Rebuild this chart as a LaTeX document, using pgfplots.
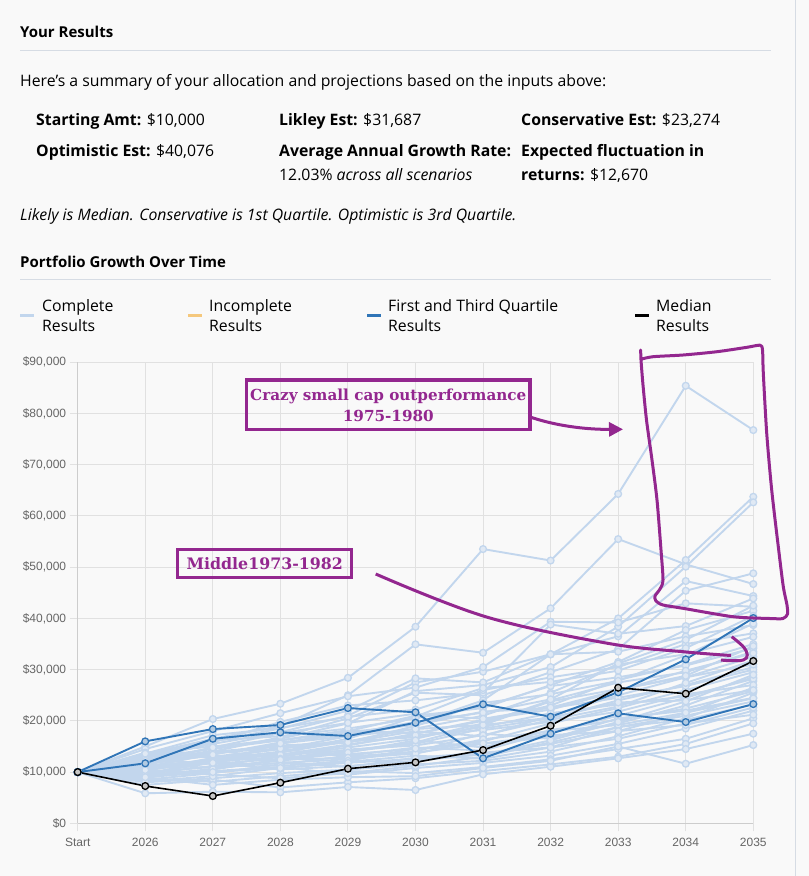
\documentclass[border=0pt]{standalone}
\usepackage{pgfplots}
\pgfplotsset{compat=1.18}
\usepackage{fontspec}
\setmainfont{Open Sans}
\newfontfamily\tickfont{Liberation Sans}
\newfontfamily\slab{DejaVu Serif}
\usetikzlibrary{arrows.meta}
\definecolor{bg}{RGB}{249,249,249}
\definecolor{lt}{RGB}{194,214,237}
\definecolor{qb}{RGB}{48,117,183}
\definecolor{pp}{RGB}{147,39,143}
\definecolor{grd}{RGB}{225,225,225}
\definecolor{axl}{RGB}{205,205,205}
\definecolor{tk}{RGB}{102,102,102}
\definecolor{rulec}{RGB}{214,220,228}
\definecolor{org}{RGB}{245,200,125}
\newcommand\bodyfont{\fontsize{15.8}{20}\selectfont}
\newcommand\headfont{\fontsize{15}{18}\selectfont\bfseries}
\pgfplotsset{
  lts/.style={lt, line width=1.9pt, mark=*, mark size=3.4pt, mark options={draw=lt, fill=lt!45!bg, line width=1.3pt}},
  qs/.style={qb, line width=1.9pt, mark=*, mark size=3.4pt, mark options={draw=qb, fill=qb!35!bg, line width=1.3pt}},
  ms/.style={black, line width=1.6pt, mark=*, mark size=3.4pt, mark options={draw=black, fill=black!20!bg, line width=1.3pt}},
}
\begin{document}
\begin{tikzpicture}
\path[use as bounding box, fill=bg] (0pt,0pt) rectangle (809pt,-876pt);
\begin{scope}[x=1pt,y=-1pt]
\draw[rulec, line width=1pt] (795,0) -- (795,876);
\node[anchor=base west, inner sep=0] at (20,37.7) {\headfont Your Results};
\draw[rulec, line width=1pt] (20,50) -- (771,50);
\node[anchor=base west, inner sep=0] at (20,86) {\bodyfont Here’s a summary of your allocation and projections based on the inputs above:};
\node[anchor=base west, inner sep=0] at (36,125) {\bodyfont\textbf{Starting Amt:} \$10,000};
\node[anchor=base west, inner sep=0] at (279,125) {\bodyfont\textbf{Likley Est:} \$31,687};
\node[anchor=base west, inner sep=0] at (521,125) {\bodyfont\textbf{Conservative Est:} \$23,274};
\node[anchor=base west, inner sep=0] at (36,156.7) {\bodyfont\textbf{Optimistic Est:} \$40,076};
\node[anchor=base west, inner sep=0] at (279,156.7) {\bodyfont\textbf{Average Annual Growth Rate:}};
\node[anchor=base west, inner sep=0] at (521,156.7) {\bodyfont\textbf{Expected fluctuation in}};
\node[anchor=base west, inner sep=0] at (279,180) {\bodyfont 12.03\% \textit{across all scenarios}};
\node[anchor=base west, inner sep=0] at (521,180) {\bodyfont\textbf{returns:} \$12,670};
\node[anchor=base west, inner sep=0] at (20,220.7) {\bodyfont\itshape Likely is Median. Conservative is 1st Quartile. Optimistic is 3rd Quartile.};
\node[anchor=base west, inner sep=0] at (20,267) {\headfont Portfolio Growth Over Time};
\draw[rulec, line width=1pt] (20,279) -- (771,279);
% legend
\draw[lt, line width=3pt] (20,315.5) -- (34,315.5);
\draw[org, line width=3pt] (188,315.5) -- (202,315.5);
\draw[qb, line width=3pt] (367,315.5) -- (381,315.5);
\draw[black, line width=3pt] (635,315.5) -- (649,315.5);
\node[anchor=base west, inner sep=0] at (42,311.5) {\bodyfont Complete};
\node[anchor=base west, inner sep=0] at (42,331.5) {\bodyfont Results};
\node[anchor=base west, inner sep=0] at (209,311.5) {\bodyfont Incomplete};
\node[anchor=base west, inner sep=0] at (209,331.5) {\bodyfont Results};
\node[anchor=base west, inner sep=0] at (388,311.5) {\bodyfont First and Third Quartile};
\node[anchor=base west, inner sep=0] at (388,331.5) {\bodyfont Results};
\node[anchor=base west, inner sep=0] at (656,311.5) {\bodyfont Median};
\node[anchor=base west, inner sep=0] at (656,331.5) {\bodyfont Results};
\end{scope}
\begin{axis}[
  scale only axis, width=675.6pt, height=461pt,
  at={(77.7pt,-823.3pt)}, anchor=south west,
  xmin=0, xmax=10, ymin=0, ymax=90000,
  xtick={0,1,2,3,4,5,6,7,8,9,10},
  xticklabels={Start,2026,2027,2028,2029,2030,2031,2032,2033,2034,2035},
  ytick={0,10000,20000,30000,40000,50000,60000,70000,80000,90000},
  yticklabels={{\$0},{\$10,000},{\$20,000},{\$30,000},{\$40,000},{\$50,000},{\$60,000},{\$70,000},{\$80,000},{\$90,000}},
  scaled y ticks=false,
  grid=major, grid style={grd, line width=1pt},
  axis lines*=left, axis line style={axl, line width=1pt},
  tick align=outside, major tick length=8pt, tick style={grd, line width=1pt},
  ticklabel style={font=\tickfont\fontsize{12}{14}\selectfont, text=tk},
  xticklabel style={yshift=-3pt},
  clip=false,
]
\addplot[lts] coordinates {(0,10000)(1,15000)(2,20360)(3,23350)(4,28400)(5,38380)(6,53540)(7,51300)(8,64300)(9,85420)(10,76770)};
\addplot[lts] coordinates {(0,10000)(1,13500)(2,16500)(3,19000)(4,25000)(5,34940)(6,33300)(7,41970)(8,55490)(9,50550)(10,46710)};
\addplot[lts] coordinates {(0,10000)(1,12800)(2,15500)(3,17800)(4,21000)(5,27500)(6,29600)(7,33000)(8,40000)(9,51400)(10,63750)};
\addplot[lts] coordinates {(0,10000)(1,12000)(2,14800)(3,16500)(4,19500)(5,25800)(6,27000)(7,30500)(8,38400)(9,50100)(10,62660)};
\addplot[lts] coordinates {(0,10000)(1,13000)(2,16000)(3,18500)(4,22000)(5,28300)(6,27500)(7,33000)(8,36500)(9,47300)(10,44370)};
\addplot[lts] coordinates {(0,10000)(1,11500)(2,14000)(3,16800)(4,20500)(5,25500)(6,25000)(7,29500)(8,34000)(9,45400)(10,48800)};
\addplot[lts] coordinates {(0,10000)(1,14500)(2,18000)(3,21500)(4,24800)(5,26500)(6,30500)(7,39350)(8,39200)(9,42940)(10,42280)};
\addplot[lts] coordinates {(0,10000)(1,12200)(2,15800)(3,19800)(4,23000)(5,24000)(6,25500)(7,38800)(8,37000)(9,38510)(10,43900)};
\addplot[lts] coordinates {(0,10000)(1,11000)(2,13500)(3,15500)(4,18000)(5,21000)(6,22500)(7,27000)(8,31500)(9,37730)(10,41500)};
\addplot[lts] coordinates {(0,10000)(1,12500)(2,13000)(3,14500)(4,17000)(5,19500)(6,24000)(7,33000)(8,33500)(9,36500)(10,38700)};
\addplot[lts] coordinates {(0,10000)(1,9500)(2,12500)(3,14000)(4,16500)(5,20800)(6,26000)(7,28500)(8,30500)(9,35000)(10,37090)};
\addplot[lts] coordinates {(0,10000)(1,10500)(2,11800)(3,13800)(4,16000)(5,18500)(6,21000)(7,25500)(8,31000)(9,33000)(10,36400)};
\addplot[lts] coordinates {(0,10000)(1,13800)(2,15000)(3,16200)(4,18200)(5,17500)(6,20000)(7,23000)(8,28000)(9,31000)(10,35000)};
\addplot[lts] coordinates {(0,10000)(1,11200)(2,12000)(3,13000)(4,14800)(5,16500)(6,19500)(7,24000)(8,27500)(9,29500)(10,33500)};
\addplot[lts] coordinates {(0,10000)(1,10800)(2,13800)(3,15200)(4,15800)(5,18000)(6,17000)(7,21000)(8,25000)(9,28500)(10,32500)};
\addplot[lts] coordinates {(0,10000)(1,9000)(2,10500)(3,12500)(4,14000)(5,15500)(6,18500)(7,20500)(8,24000)(9,27000)(10,30500)};
\addplot[lts] coordinates {(0,10000)(1,12000)(2,14200)(3,12800)(4,13500)(5,14500)(6,16000)(7,19500)(8,22500)(9,26000)(10,29500)};
\addplot[lts] coordinates {(0,10000)(1,8500)(2,9800)(3,11500)(4,13200)(5,14800)(6,14200)(7,17800)(8,21000)(9,24500)(10,28500)};
\addplot[lts] coordinates {(0,10000)(1,11500)(2,10800)(3,11800)(4,12500)(5,13800)(6,15500)(7,16800)(8,19500)(9,23000)(10,27800)};
\addplot[lts] coordinates {(0,10000)(1,9800)(2,11800)(3,10500)(4,11200)(5,12200)(6,13500)(7,15500)(8,18000)(9,21500)(10,26500)};
\addplot[lts] coordinates {(0,10000)(1,8000)(2,8800)(3,9800)(4,10500)(5,11500)(6,12200)(7,14000)(8,17000)(9,20500)(10,25500)};
\addplot[lts] coordinates {(0,10000)(1,10200)(2,12800)(3,14500)(4,13000)(5,14000)(6,17500)(7,16500)(8,20500)(9,22000)(10,24500)};
\addplot[lts] coordinates {(0,10000)(1,9200)(2,10200)(3,11000)(4,9500)(5,10800)(6,11800)(7,13200)(8,15500)(9,18500)(10,22000)};
\addplot[lts] coordinates {(0,10000)(1,8800)(2,8100)(3,9200)(4,10200)(5,9800)(6,11000)(7,12500)(8,14500)(9,16500)(10,20500)};
\addplot[lts] coordinates {(0,10000)(1,7500)(2,8500)(3,7000)(4,8000)(5,8800)(6,10200)(7,11500)(8,13000)(9,15500)(10,19500)};
\addplot[lts] coordinates {(0,10000)(1,5860)(2,6170)(3,6050)(4,7090)(5,6500)(6,9560)(7,11050)(8,12690)(9,14500)(10,17500)};
\addplot[lts] coordinates {(0,10000)(1,9000)(2,7500)(3,8500)(4,9000)(5,9200)(6,10800)(7,12200)(8,15000)(9,11630)(10,15280)};
\addplot[lts] coordinates {(0,10000)(1,11800)(2,13200)(3,12000)(4,11000)(5,12800)(6,13800)(7,14800)(8,16500)(9,19500)(10,21200)};
\addplot[lts] coordinates {(0,10000)(1,10500)(2,9500)(3,8800)(4,9800)(5,11200)(6,13000)(7,15800)(8,18800)(9,21000)(10,23800)};
\addplot[lts] coordinates {(0,10000)(1,12800)(2,14500)(3,16200)(4,17800)(5,19200)(6,21800)(7,22500)(8,24500)(9,26800)(10,30000)};
\addplot[lts] coordinates {(0,10000)(1,11000)(2,12500)(3,13500)(4,14200)(5,15800)(6,19200)(7,23800)(8,26200)(9,28500)(10,31000)};
\addplot[lts] coordinates {(0,10000)(1,13200)(2,16200)(3,17000)(4,18500)(5,20500)(6,22800)(7,26800)(8,28500)(9,30800)(10,34200)};
\addplot[lts] coordinates {(0,10000)(1,9600)(2,11200)(3,13000)(4,15200)(5,17500)(6,20200)(7,22200)(8,25800)(9,29800)(10,33200)};
\addplot[lts] coordinates {(0,10000)(1,12400)(2,14000)(3,15000)(4,16000)(5,16800)(6,18800)(7,21500)(8,23200)(9,24800)(10,28200)};
\addplot[lts] coordinates {(0,10000)(1,10800)(2,12200)(3,13400)(4,15400)(5,17200)(6,18200)(7,19800)(8,21800)(9,25200)(10,27000)};
\addplot[lts] coordinates {(0,10000)(1,11400)(2,13800)(3,14600)(4,15800)(5,19000)(6,23500)(7,25200)(8,27800)(9,32800)(10,39000)};
\addplot[lts] coordinates {(0,10000)(1,12600)(2,11600)(3,12600)(4,14400)(5,15200)(6,17200)(7,20200)(8,22800)(9,27400)(10,31800)};
\addplot[lts] coordinates {(0,10000)(1,10000)(2,11000)(3,12200)(4,13800)(5,16200)(6,14800)(7,18200)(8,20200)(9,22400)(10,25800)};
\addplot[lts] coordinates {(0,10000)(1,8200)(2,9200)(3,10800)(4,12000)(5,13200)(6,12600)(7,14800)(8,18800)(9,20200)(10,23200)};
\addplot[lts] coordinates {(0,10000)(1,13600)(2,17200)(3,18600)(4,20800)(5,22200)(6,26400)(7,27600)(8,29800)(9,34200)(10,40500)};
\addplot[lts] coordinates {(0,10000)(1,11600)(2,13400)(3,15800)(4,17400)(5,19800)(6,21600)(7,24200)(8,31200)(9,35800)(10,42500)};
\addplot[lts] coordinates {(0,10000)(1,9400)(2,10600)(3,12400)(4,12800)(5,13600)(6,16400)(7,18000)(8,19200)(9,21600)(10,24400)};
\addplot[lts] coordinates {(0,10000)(1,10400)(2,12000)(3,11200)(4,12200)(5,14600)(6,15600)(7,17200)(8,18000)(9,19200)(10,22600)};
\addplot[lts] coordinates {(0,10000)(1,12200)(2,11800)(3,15600)(4,17000)(5,18400)(6,19200)(7,20600)(8,23600)(9,24000)(10,26000)};
\addplot[lts] coordinates {(0,10000)(1,9000)(2,10000)(3,10800)(4,11800)(5,12600)(6,13400)(7,16200)(8,19800)(9,23800)(10,29000)};
\addplot[lts] coordinates {(0,10000)(1,11800)(2,14800)(3,17600)(4,19600)(5,21400)(6,20400)(7,22600)(8,26000)(9,28800)(10,34600)};
% quartiles
\addplot[qs] coordinates {(0,10000)(1,16000)(2,18400)(3,19190)(4,22500)(5,21670)(6,12690)(7,17500)(8,21470)(9,19770)(10,23274)};
\addplot[qs] coordinates {(0,10000)(1,11710)(2,16510)(3,17760)(4,17040)(5,19640)(6,23230)(7,20810)(8,25570)(9,32010)(10,40076)};
% median
\addplot[ms] coordinates {(0,10000)(1,7280)(2,5330)(3,7930)(4,10660)(5,11900)(6,14300)(7,19050)(8,26470)(9,25300)(10,31687)};
\end{axis}
\begin{scope}[x=1pt,y=-1pt]
% annotation 1
\draw[pp, line width=3.5pt] (246.7,380) rectangle (530,429.3);
\node[pp, align=center, inner sep=0, font=\slab\bfseries\fontsize{15.2}{20.5}\selectfont] at (388.3,405.5) {Crazy small cap outperformance\\1975-1980};
\draw[pp, line width=3pt, -{Triangle[length=14pt,width=14pt]}] (531,417.3) .. controls (560,427) and (590,429.5) .. (623,429.3);
% annotation 2
\draw[pp, line width=3pt] (177.7,549.3) rectangle (351.7,577.3);
\node[pp, inner sep=0, font=\slab\bfseries\fontsize{15.8}{18}\selectfont] at (264.7,563.3) {Middle1973-1982};
\draw[pp, line width=3pt] plot[smooth, tension=0.6] coordinates {(375.7,574) (485.6,616.7) (607.7,643.3) (683,651.7) (731,655.5)};
\draw[pp, line width=3pt] plot[smooth, tension=0.6] coordinates {(731.7,636.7) (743.3,646.7) (747.3,655) (743.3,660) (730,660.7) (721,660)};
% hand drawn enclosure
\draw[pp, line width=3pt, line join=round, line cap=round] plot[smooth, tension=0.45] coordinates {(640.7,359.3) (653,356.7) (683,355) (717,351.7) (747,347.3) (760,345.2) (762.5,350) (763.3,373) (766.7,433) (771.7,490) (778.3,546.7) (783.3,586.7) (787,605) (787.5,614) (783,618.5) (770,618.5) (733,616.7) (683,608.3) (663,605) (656,601) (655,596) (660,589) (663,580) (661,550) (657,500) (652,460) (646.5,420) (643,385) (641,360) (640.7,350)};
\end{scope}
\end{tikzpicture}
\end{document}
